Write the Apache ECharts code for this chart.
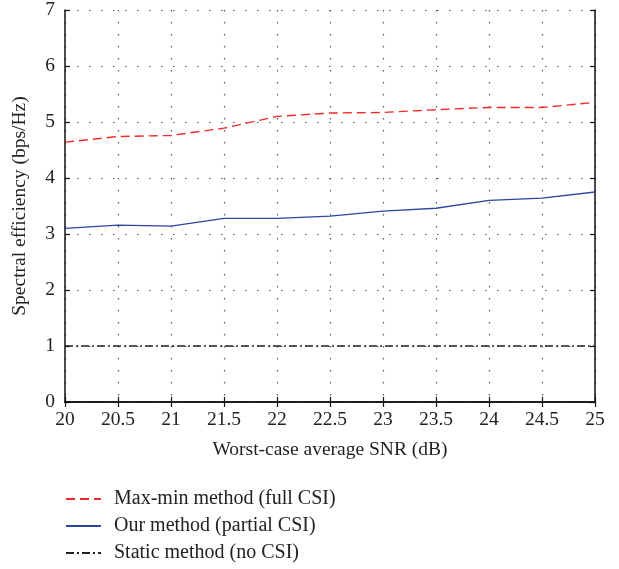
<!DOCTYPE html>
<html>
<head>
<meta charset="utf-8">
<script src="https://cdn.jsdelivr.net/npm/echarts@6/dist/echarts.min.js"></script>
<style>html,body{margin:0;padding:0;background:#fff;}#c{width:619px;height:569px;}</style>
</head>
<body>
<div id="c"></div>
<script>
const snr = [20, 20.5, 21, 21.5, 22, 22.5, 23, 23.5, 24, 24.5, 25];
const maxMin = [4.64, 4.74, 4.76, 4.89, 5.10, 5.16, 5.17, 5.22, 5.26, 5.26, 5.35];
const ours = [3.10, 3.16, 3.14, 3.28, 3.28, 3.32, 3.41, 3.46, 3.60, 3.64, 3.75];
const staticM = [1, 1, 1, 1, 1, 1, 1, 1, 1, 1, 1];
const seriesNames = ['Max-min method (full CSI)', 'Our method (partial CSI)', 'Static method (no CSI)'];

const font = 'Liberation Serif';
const pairs = a => snr.map((x, i) => [x, a[i]]);
const chart = echarts.init(document.getElementById('c'));
const axisLine = { show: true, lineStyle: { color: '#111', width: 1.5 } };
const tick = { show: true, inside: true, length: 5, lineStyle: { color: '#111', width: 1.2 } };
const grid = { show: true, lineStyle: { color: '#555', type: [1.5, 10.5], width: 1.2 } };
chart.setOption({
  animation: false,
  grid: { left: 65, right: 24, top: 7, bottom: 167 },
  xAxis: [{
    type: 'value', min: 20, max: 25, interval: 0.5,
    name: 'Worst-case average SNR (dB)', nameLocation: 'middle', nameGap: 38,
    nameTextStyle: { fontFamily: font, fontSize: 19.5, color: '#222' },
    axisLine, axisTick: tick, splitLine: grid,
    axisLabel: { fontFamily: font, fontSize: 19.5, color: '#222', margin: 8 }
  }, {
    type: 'value', min: 20, max: 25, interval: 0.5, position: 'top',
    axisLine, axisTick: tick, splitLine: { show: false }, axisLabel: { show: false }
  }],
  yAxis: [{
    type: 'value', min: 0, max: 7, interval: 1,
    name: 'Spectral efficiency (bps/Hz)', nameLocation: 'middle', nameGap: 35,
    nameTextStyle: { fontFamily: font, fontSize: 19.5, color: '#222' },
    axisLine, axisTick: tick, splitLine: grid,
    axisLabel: { fontFamily: font, fontSize: 19.5, color: '#222', margin: 10 }
  }, {
    type: 'value', min: 0, max: 7, interval: 1, position: 'right',
    axisLine, axisTick: tick, splitLine: { show: false }, axisLabel: { show: false }
  }],
  legend: {
    orient: 'vertical', left: 65, top: 489, padding: 0, height: 80,
    itemWidth: 35, itemHeight: 14, itemGap: 7,
    itemStyle: { color: 'transparent', borderWidth: 0, opacity: 0 },
    textStyle: { fontFamily: font, fontSize: 20, color: '#222', padding: [0, 0, 0, 8] },
    data: seriesNames
  },
  series: [
    { name: seriesNames[0], type: 'line', data: pairs(maxMin), symbol: 'none',
      lineStyle: { color: '#ee2a2a', width: 1.4, type: [9, 5] }, itemStyle: { color: '#ee2a2a' } },
    { name: seriesNames[1], type: 'line', data: pairs(ours), symbol: 'none',
      lineStyle: { color: '#2a46a0', width: 1.3 }, itemStyle: { color: '#2a46a0' } },
    { name: seriesNames[2], type: 'line', data: pairs(staticM), symbol: 'none',
      lineStyle: { color: '#222', width: 1.3, type: [8, 3, 2, 3] }, itemStyle: { color: '#222' } }
  ]
});
</script>
</body>
</html>
